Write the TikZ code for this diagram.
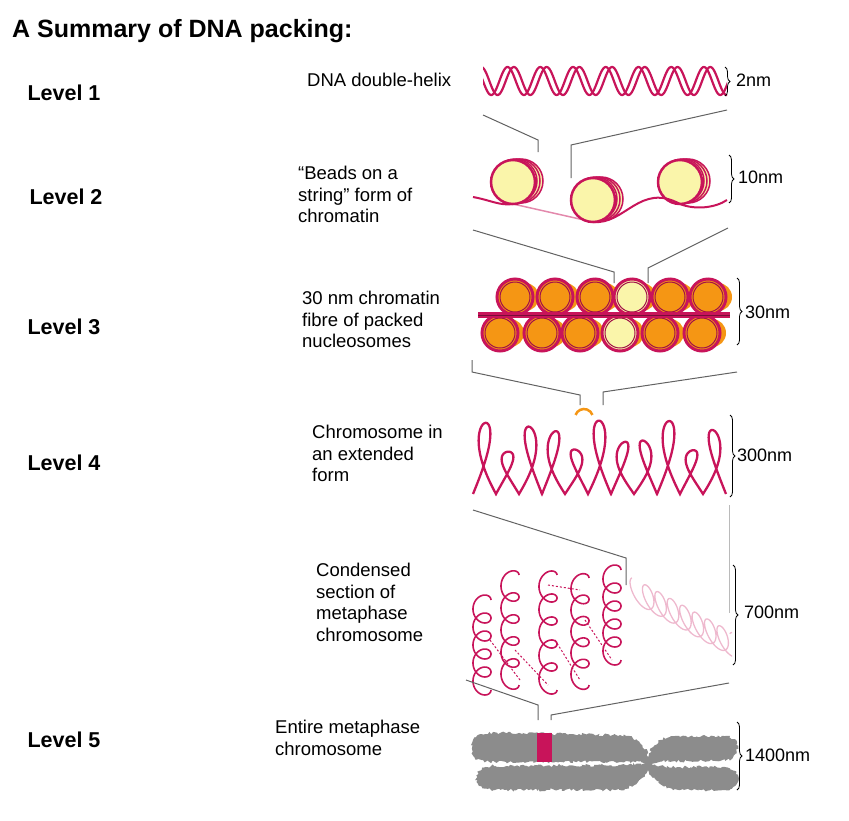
\documentclass[tikz,border=0pt]{standalone}
\usepackage{fontspec}
\setmainfont{Liberation Sans}
\usetikzlibrary{decorations.pathreplacing,decorations.pathmorphing}
\definecolor{dna}{RGB}{200,20,90}
\definecolor{ylw}{RGB}{250,245,170}
\definecolor{org}{RGB}{245,150,20}
\definecolor{gr}{RGB}{140,140,140}
\begin{document}
\begin{tikzpicture}[x=1pt,y=-1pt,
  lvl/.style={anchor=west,font=\bfseries\fontsize{21.5}{24}\selectfont},
  desc/.style={anchor=north west,align=left,font=\fontsize{18.5}{21.5}\selectfont,inner sep=0pt},
  sz/.style={anchor=west,font=\fontsize{18}{20}\selectfont,inner sep=1pt},
  brc/.style={decorate,decoration={brace,amplitude=5pt},line width=0.8pt},
  conn/.style={draw=gr!70!black,line width=1pt},
  strand/.style={draw=dna,line width=2pt}]
\useasboundingbox (0,0) rectangle (849,820);
\node[anchor=west,font=\bfseries\fontsize{25}{28}\selectfont,inner sep=0pt] (title) at (12,31) {A Summary of DNA packing:};
\node[lvl] (l1) at (24,93) {Level 1};
\node[lvl] (l2) at (26,197) {Level 2};
\node[lvl] (l3) at (24,327) {Level 3};
\node[lvl] (l4) at (24,463) {Level 4};
\node[lvl] (l5) at (24,740) {Level 5};
\node[desc] (d1) at (307,73) {DNA double-helix};
\node[desc] (d2) at (298,166) {“Beads on a\\string” form of\\chromatin};
\node[desc] (d3) at (302,291) {30 nm chromatin\\fibre of packed\\nucleosomes};
\node[desc] (d4) at (312,425) {Chromosome in\\an extended\\form};
\node[desc] (d5) at (316,563) {Condensed\\section of\\metaphase\\chromosome};
\node[desc] (d6) at (275,720) {Entire metaphase\\chromosome};
% Level 1 helix
\begin{scope}
\clip (483,60) rectangle (727,102);
\draw[dna,line width=2.2pt,domain=470:740,samples=300] plot (\x,{81+14*sin((\x-483)*11)});
\draw[dna,line width=2.2pt,domain=470:740,samples=300] plot (\x,{81-14*sin((\x-483)*11+110)});
\end{scope}
\draw[brc] (725,67) -- (725,96);
\node[sz] (s1) at (735,80) {2nm};
% connectors 1-2
\coordinate (a1) at (483,115); \coordinate (a2) at (538,140); \coordinate (a3) at (538,152);
\draw[conn] (a1) -- (a2) -- (a3);
\coordinate (b1) at (727,110); \coordinate (b2) at (571,145); \coordinate (b3) at (571,178);
\draw[conn] (b1) -- (b2) -- (b3);
% Level 2 beads
\draw[dna!50,line width=1.5pt] (513,204) -- (593,222);
\foreach \cx/\cy in {513/182,593/200,680/182}{
  \foreach \o in {8,5,2}{\draw[dna,line width=1.5pt,fill=ylw] (\cx+\o,\cy-1) circle (22);}
  \draw[dna,line width=2.5pt,fill=ylw] (\cx,\cy) circle (22);
  \fill[ylw] (\cx,\cy) circle (19);
}
\draw[dna,line width=2pt] (473,197) .. controls (490,200) and (500,206) .. (513,204);
\draw[dna,line width=2pt] (593,222) .. controls (625,225) and (640,182) .. (680,204) .. controls (695,210) and (715,208) .. (727,200);
\draw[brc] (729,155) -- (729,203);
\node[sz] (s2) at (737,177) {10nm};
% connectors 2-3
\coordinate (c1) at (473,230); \coordinate (c2) at (614,272); \coordinate (c3) at (614,283);
\draw[conn] (c1) -- (c2) -- (c3);
\coordinate (e1) at (728,228); \coordinate (e2) at (648,268); \coordinate (e3) at (648,283);
\draw[conn] (e1) -- (e2) -- (e3);
% Level 3 fibre
\foreach \cx/\fc in {500/org,542/org,580/org,620/ylw,660/org,702/org}{
  \fill[org] (\cx+10,333) circle (14);
  \draw[dna,line width=3pt,fill=\fc] (\cx,333) circle (18);
  \draw[dna!80!black,line width=1pt] (\cx,333) circle (15);
}
\foreach \cx/\fc in {515/org,555/org,595/org,632/ylw,670/org,708/org}{
  \fill[org] (\cx+10,297) circle (14);
  \draw[dna,line width=3pt,fill=\fc] (\cx,297) circle (18);
  \draw[dna!80!black,line width=1pt] (\cx,297) circle (15);
}
\fill[dna] (478,312) rectangle (730,318);
\draw[dna!60!black,line width=0.6pt] (478,315) -- (730,315);
\draw[brc] (737,278) -- (737,345);
\node[sz] (s3) at (744,312) {30nm};
% connectors 3-4
\coordinate (f1) at (472,360); \coordinate (f2) at (472,372); \coordinate (f3) at (580,395); \coordinate (f4) at (580,405);
\draw[conn] (f1) -- (f2) -- (f3) -- (f4);
\coordinate (g1) at (737,372); \coordinate (g2) at (603,392); \coordinate (g3) at (603,405);
\draw[conn] (g1) -- (g2) -- (g3);
% Level 4 loops
\begin{scope}
\clip (468,405) rectangle (728,500);
\draw[dna,line width=2.3pt,domain=0:3960,samples=1200,smooth] plot ({473+23*(\x/360)+11*sin(\x)},{494-(58+16*sin(\x*0.37+60))*abs(sin(\x/2))});
\end{scope}
\draw[org,line width=2.5pt] (584,418) ++(200:9) arc (200:340:9);
\draw[brc] (730,415) -- (730,497);
\node[sz] (s4) at (736,455) {300nm};
% connectors 4-5
\coordinate (h1) at (473,510); \coordinate (h2) at (626,558); \coordinate (h3) at (626,585);
\draw[conn] (h1) -- (h2) -- (h3);
\coordinate (i1) at (729,505); \coordinate (i2) at (729,613);
\draw[conn,gr!60] (i1) -- (i2);
% condensed section
\begin{scope}
\clip (470,560) rectangle (732,700);
\draw[dna!30,line width=1.3pt,domain=0:2900,samples=600,smooth] plot ({632+100*(\x/2900)-7*sin(\x)+10*(1-cos(\x))*0.5},{585+55*(\x/2900)+14*(1-cos(\x))/2-7*cos(\x)});
\foreach \cx/\ya/\yb in {482/600/690,510/575/685,548/575/690,580/578/685,612/570/660}{
  \draw[dna,line width=1.6pt,domain=0:1800,samples=400,smooth] plot ({\cx+9*cos(\x)},{\ya+(\yb-\ya)*(\x/1800)-9*sin(\x)});
}
\draw[dna,line width=1pt,dash pattern=on 2pt off 2pt] (490,640) -- (520,680) (515,650) -- (548,685) (555,640) -- (580,680) (585,620) -- (612,660) (548,585) -- (580,590);
\end{scope}
\draw[brc] (733,565) -- (733,665);
\node[sz] (s5) at (743,612) {700nm};
% connectors 5-chromosome
\coordinate (j1) at (466,680); \coordinate (j2) at (538,705); \coordinate (j3) at (538,720);
\draw[conn] (j1) -- (j2) -- (j3);
\coordinate (k1) at (729,683); \coordinate (k2) at (551,715); \coordinate (k3) at (551,720);
\draw[conn] (k1) -- (k2) -- (k3);
% chromosome
\begin{scope}[decoration={random steps,segment length=2pt,amplitude=1.5pt}]
\fill[gr,decorate] (472,748) .. controls (472,733) and (480,733) .. (500,733) -- (620,735) .. controls (640,738) and (645,745) .. (648,757) .. controls (652,745) and (660,738) .. (675,736) -- (725,736) .. controls (742,736) and (742,760) .. (725,760) -- (675,761) .. controls (665,761) and (655,762) .. (650,764) .. controls (660,766) and (670,767) .. (680,767) -- (725,767) .. controls (742,768) and (742,790) .. (725,790) -- (680,790) .. controls (665,790) and (652,780) .. (648,770) .. controls (644,780) and (630,790) .. (615,790) -- (495,790) .. controls (470,790) and (470,766) .. (495,766) -- (620,765) .. controls (630,764) and (640,764) .. (645,763) .. controls (640,762) and (630,762) .. (620,762) -- (495,762) .. controls (478,762) and (472,758) .. (472,748) -- cycle;
\end{scope}
\fill[dna] (537,733) rectangle (552,762);
\draw[brc] (737,722) -- (737,790);
\node[sz] (s6) at (744,755) {1400nm};
\end{tikzpicture}
\end{document}
